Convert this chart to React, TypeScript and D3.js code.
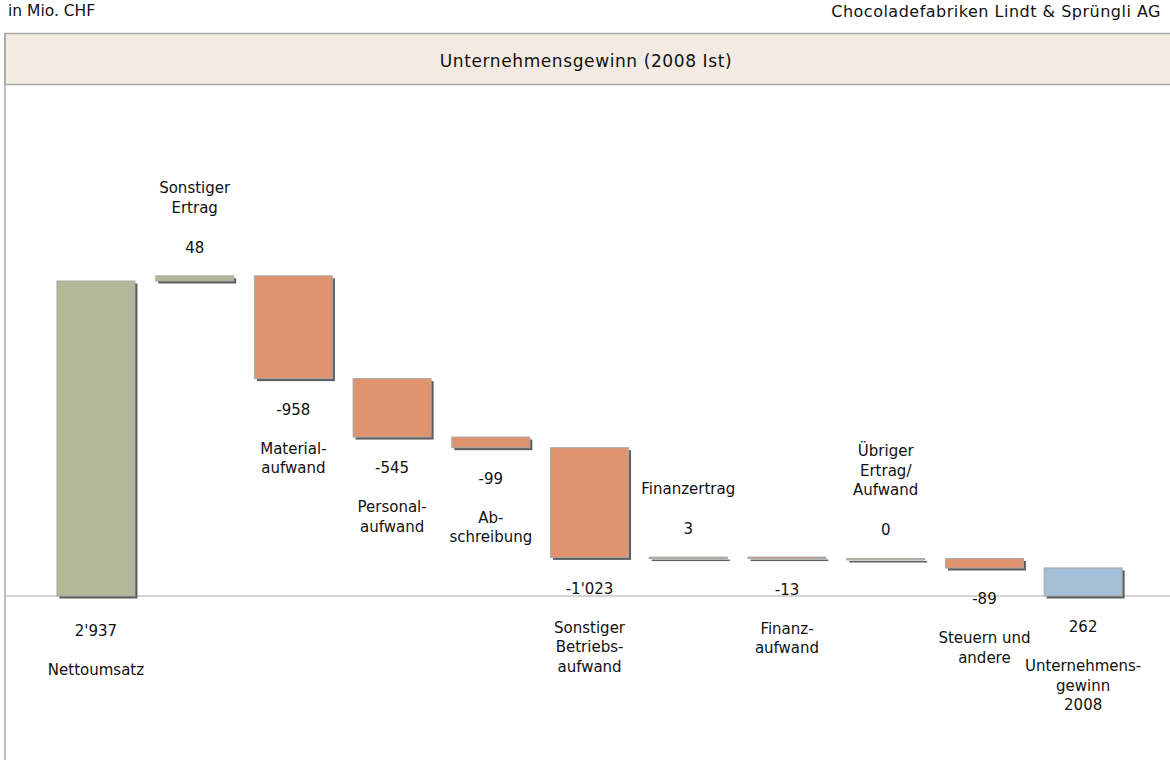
import * as d3 from "d3";

const categories = [
  "Nettoumsatz",
  "Sonstiger Ertrag",
  "Materialaufwand",
  "Personalaufwand",
  "Abschreibung",
  "Sonstiger Betriebsaufwand",
  "Finanzertrag",
  "Finanzaufwand",
  "Übriger Ertrag/Aufwand",
  "Steuern und andere",
  "Unternehmensgewinn 2008",
];
const labelLines = [
  ["Nettoumsatz"],
  ["Sonstiger", "Ertrag"],
  ["Material-", "aufwand"],
  ["Personal-", "aufwand"],
  ["Ab-", "schreibung"],
  ["Sonstiger", "Betriebs-", "aufwand"],
  ["Finanzertrag"],
  ["Finanz-", "aufwand"],
  ["Übriger", "Ertrag/", "Aufwand"],
  ["Steuern und", "andere"],
  ["Unternehmens-", "gewinn", "2008"],
];
const values = [2937, 48, -958, -545, -99, -1023, 3, -13, 0, -89, 262];
const valueLabels = ["2'937", "48", "-958", "-545", "-99", "-1'023", "3", "-13", "0", "-89", "262"];
const kinds = ["start", "up", "down", "down", "down", "down", "up", "down", "up", "down", "end"];

const W = 1170;
const H = 760;
const FONT = "'DejaVu Sans', Verdana, sans-serif";

const colors: Record<string, string> = {
  start: "#b3b898",
  up: "#b3b898",
  down: "#e0936f",
  end: "#a4bfd8",
};

export default function App() {
  const x = d3
    .scaleBand<string>()
    .domain(categories)
    .range([46.6, 1132.5])
    .paddingInner(0.21)
    .paddingOuter(0.105);

  const y = d3.scaleLinear().domain([0, 3000]).range([596, 274.25]);

  // running totals for the waterfall
  let run = 0;
  const bars = values.map((v, i) => {
    let y0: number, y1: number;
    if (kinds[i] === "start") {
      y0 = 0;
      y1 = v;
      run = v;
    } else if (kinds[i] === "end") {
      y0 = 0;
      y1 = v;
    } else {
      y0 = run;
      y1 = run + v;
      run = y1;
    }
    const top = y(Math.max(y0, y1));
    const bottom = y(Math.min(y0, y1));
    return { i, top, bottom, h: Math.max(bottom - top, 1.5), above: kinds[i] === "up" };
  });

  const lh = 19.5;

  return (
    <div style={{ position: "absolute", left: 0, top: 0 }}>
      <svg width={W} height={H} style={{ display: "block", fontFamily: FONT }}>
        <rect x={0} y={0} width={W} height={H} fill="#fff" />
        <text x={8} y={11} dy="0.35em" fontSize={15.5} fill="#111">
          in Mio. CHF
        </text>
        <text x={1161} y={11} dy="0.35em" fontSize={16} letterSpacing={0.5} fill="#111" textAnchor="end">
          Chocoladefabriken Lindt &amp; Sprüngli  AG
        </text>

        {/* frame and title band */}
        <rect x={5} y={33.5} width={W + 10} height={51} fill="#f3ebe1" stroke="#a8a8a8" strokeWidth={1.5} />
        <line x1={5} x2={5} y1={33} y2={H} stroke="#a8a8a8" strokeWidth={1.5} />
        <text x={586} y={61} dy="0.35em" fontSize={17} letterSpacing={0.6} fill="#111" textAnchor="middle">
          Unternehmensgewinn (2008 Ist)
        </text>

        {/* zero line */}
        <line x1={5} x2={W} y1={y(0)} y2={y(0)} stroke="#c4c4c4" strokeWidth={1.5} />

        {bars.map((b) => {
          const bx = x(categories[b.i])!;
          const bw = x.bandwidth();
          return (
            <g key={categories[b.i]}>
              <rect x={bx + 2.5} y={b.top + 2.5} width={bw} height={b.h} fill="#5e5e5e" />
              <rect
                x={bx}
                y={b.top}
                width={bw}
                height={b.h}
                fill={colors[kinds[b.i]]}
                stroke="#a9a9a9"
                strokeWidth={1}
              />
            </g>
          );
        })}

        {bars.map((b) => {
          const cx = x(categories[b.i])! + x.bandwidth() / 2;
          const lines = labelLines[b.i];
          if (b.above) {
            const vy = b.top - 28.5;
            return (
              <g key={"l" + b.i} fontSize={15} fill="#111" textAnchor="middle">
                <text x={cx} y={vy} dy="0.35em">
                  {valueLabels[b.i]}
                </text>
                {lines.map((t, j) => (
                  <text key={j} x={cx} y={vy - 40 - (lines.length - 1 - j) * lh} dy="0.35em">
                    {t}
                  </text>
                ))}
              </g>
            );
          }
          const vy = b.bottom + (b.i === 0 ? 35 : 31);
          return (
            <g key={"l" + b.i} fontSize={15} fill="#111" textAnchor="middle">
              <text x={cx} y={vy} dy="0.35em">
                {valueLabels[b.i]}
              </text>
              {lines.map((t, j) => (
                <text key={j} x={cx} y={vy + 39 + j * lh} dy="0.35em">
                  {t}
                </text>
              ))}
            </g>
          );
        })}
      </svg>
    </div>
  );
}
